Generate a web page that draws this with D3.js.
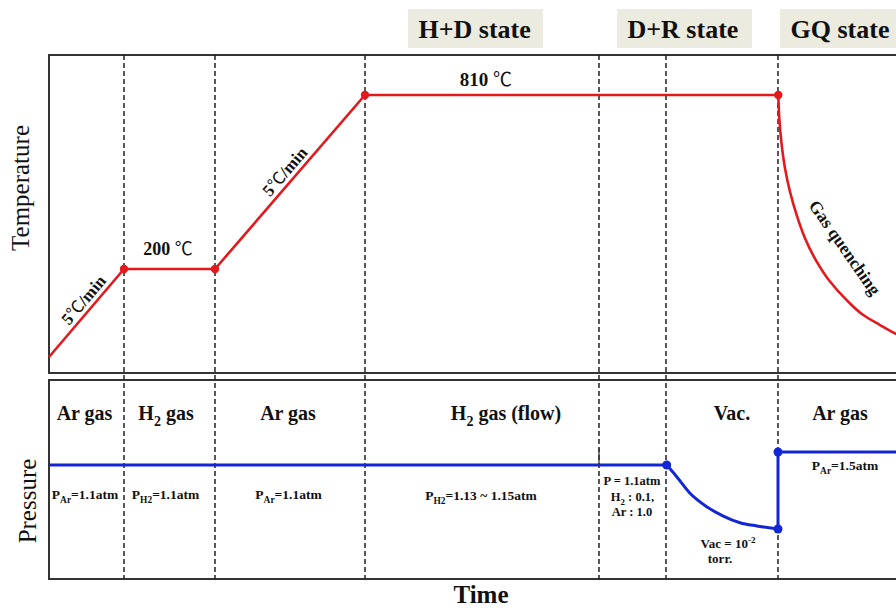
<!DOCTYPE html>
<html><head><meta charset="utf-8">
<script src="https://cdn.jsdelivr.net/npm/d3@7"></script>
<style>
html,body{margin:0;padding:0;background:#fff;}
svg{display:block;}
text{font-family:"Liberation Serif","Times New Roman",serif;fill:#111;}
.cel{font-family:"Noto Sans CJK SC","Noto Sans CJK JP",sans-serif;font-weight:normal;}
</style></head>
<body><svg id="c" width="896" height="610"></svg>
<script>
// ---- data (schematic time units) ----
const stageBounds = [7.5, 16.6, 31.6, 55.0, 61.7, 72.9];
const stateLabels = ["H+D state", "D+R state", "GQ state"];
const stateStarts = [35.9, 56.8, 73.1];

const tempTimes  = [0, 7.5, 16.6, 31.6, 72.93];
const tempValues = [25, 200, 200, 810, 810];
const quenchTimes  = [72.93, 73.03, 73.27, 73.6, 74.1, 74.77, 75.6, 76.77, 78.1, 79.77, 81.43, 83.1, 84.6, 85.0];
const quenchValues = [810, 728, 635, 553, 471, 389, 308, 226, 175, 138, 108.5, 88.6, 72, 68];
const tempDotTimes  = [7.5, 16.6, 31.6, 72.93];
const tempDotValues = [200, 200, 810, 810];

const presTimes  = [0, 55.0, 61.77];
const presValues = [1.1, 1.1, 1.1];
const vacTimes  = [61.77, 62.77, 64.1, 65.77, 67.43, 69.1, 70.77, 72.9];
const vacValues = [1.1, 0.899, 0.614, 0.383, 0.223, 0.108, 0.052, 0];
const refillTimes  = [72.9, 72.9, 85.5];
const refillValues = [0, 1.5, 1.5];
const presDotTimes  = [61.77, 72.9, 72.9];
const presDotValues = [1.1, 0, 1.5];

const gasLabels = ["Ar gas", "H|2| gas", "Ar gas", "H|2| gas (flow)", "Vac.", "Ar gas"];
const gasCenters = [3.55, 11.7, 23.9, 45.7, 68.3, 79.1];

// ---- layout ----
const svg = d3.select("#c");
const L = 49;
const topP = {y0: 55, y1: 373};
const botP = {y0: 380, y1: 579};
const x = d3.scaleLinear().domain([0, 85]).range([L, 899]);
const yT = d3.scaleLinear().domain([25, 200, 810]).range([357, 269, 95]);
const yP = d3.scaleLinear().domain([0, 1.1, 1.5]).range([529, 465, 452]);
const RED = "#e3191c", BLUE = "#1226d4", DARK = "#333";

// header boxes
stateLabels.forEach((s, i) => {
  const bx = x(stateStarts[i]);
  svg.append("rect").attr("x", bx).attr("y", 9).attr("width", 135).attr("height", 39)
    .attr("fill", "#ecebdf");
  svg.append("text").attr("x", bx + 10.5).attr("y", 38)
    .attr("font-size", 26).attr("font-weight", "bold").text(s);
});

// panels
[topP, botP].forEach(p => {
  svg.append("path")
    .attr("d", `M${x(86)},${p.y0}H${L}V${p.y1}H${x(86)}`)
    .attr("fill", "none").attr("stroke", DARK).attr("stroke-width", 2);
});

// dashed stage lines
svg.selectAll("line.stage").data(stageBounds).enter().append("line")
  .attr("x1", d => x(d)).attr("x2", d => x(d))
  .attr("y1", topP.y0).attr("y2", botP.y1)
  .attr("stroke", "#222").attr("stroke-width", 1.5).attr("stroke-dasharray", "5,3");

// temperature
const lineT = d3.line().x(d => x(d[0])).y(d => yT(d[1]));
svg.append("path").attr("d", lineT(d3.zip(tempTimes, tempValues)))
  .attr("fill", "none").attr("stroke", RED).attr("stroke-width", 2.6);
svg.append("path").attr("d", d3.line().x(d => x(d[0])).y(d => yT(d[1])).curve(d3.curveMonotoneY)(d3.zip(quenchTimes, quenchValues)))
  .attr("fill", "none").attr("stroke", RED).attr("stroke-width", 2.6);
svg.selectAll("circle.td").data(d3.zip(tempDotTimes, tempDotValues)).enter().append("circle")
  .attr("cx", d => x(d[0])).attr("cy", d => yT(d[1])).attr("r", 4.2).attr("fill", RED);

// label with celsius glyph
function celText(sel, before, after, size) {
  sel.attr("font-size", size).attr("font-weight", "bold");
  sel.append("tspan").text(before);
  sel.append("tspan").attr("class", "cel").text("\u2103");
  if (after) sel.append("tspan").text(after);
  return sel;
}
function slopeLabel(t0, v0, t1, v1, frac, off) {
  const x0 = x(t0), y0 = yT(v0), x1 = x(t1), y1 = yT(v1);
  const ang = Math.atan2(y1 - y0, x1 - x0) * 180 / Math.PI;
  const px = x0 + (x1 - x0) * frac, py = y0 + (y1 - y0) * frac;
  const t = svg.append("text").attr("transform", `translate(${px},${py}) rotate(${ang})`)
    .attr("y", -off).attr("text-anchor", "middle");
  celText(t, "5", "/min", 17);
}
slopeLabel(0, 25, 7.5, 200, 0.57, 5);
slopeLabel(16.6, 200, 31.6, 810, 0.52, 5);
celText(svg.append("text").attr("x", x(11.9)).attr("y", yT(200) - 14).attr("text-anchor", "middle"), "200 ", "", 18);
celText(svg.append("text").attr("x", x(43.7)).attr("y", yT(810) - 9).attr("text-anchor", "middle"), "810 ", "", 19);
svg.append("text").attr("transform", "translate(840,251) rotate(55)")
  .attr("text-anchor", "middle").attr("font-size", 17.5).attr("font-weight", "bold").text("Gas quenching");

// pressure
const lineP = d3.line().x(d => x(d[0])).y(d => yP(d[1]));
svg.append("path").attr("d", lineP(d3.zip(presTimes, presValues)))
  .attr("fill", "none").attr("stroke", BLUE).attr("stroke-width", 3);
svg.append("path").attr("d", d3.line().x(d => x(d[0])).y(d => yP(d[1])).curve(d3.curveMonotoneX)(d3.zip(vacTimes, vacValues)))
  .attr("fill", "none").attr("stroke", BLUE).attr("stroke-width", 3);
svg.append("path").attr("d", lineP(d3.zip(refillTimes, refillValues)))
  .attr("fill", "none").attr("stroke", BLUE).attr("stroke-width", 3);
svg.append("line").attr("x1", x(55.0)).attr("x2", x(55.0)).attr("y1", yP(1.1)).attr("y2", yP(1.62))
  .attr("stroke", "#333").attr("stroke-width", 1.3);
svg.selectAll("circle.pd").data(d3.zip(presDotTimes, presDotValues)).enter().append("circle")
  .attr("cx", d => x(d[0])).attr("cy", d => yP(d[1])).attr("r", 4.5).attr("fill", BLUE);

// rich text helper: parts [text, mode] mode: 0 normal, 1 sub, 2 sup
function rich(xp, yp, size, parts) {
  const t = svg.append("text").attr("x", xp).attr("y", yp).attr("text-anchor", "middle")
    .attr("font-size", size).attr("font-weight", "bold");
  let cur = 0;
  parts.forEach(([s, m]) => {
    const target = m === 1 ? size * 0.28 : m === 2 ? -size * 0.4 : 0;
    t.append("tspan").attr("dy", target - cur).attr("font-size", m ? size * 0.7 : size).text(s);
    cur = target;
  });
  return t;
}
gasLabels.forEach((g, i) => {
  const p = g.split("|");
  const parts = p.length > 1 ? [[p[0], 0], [p[1], 1], [p[2], 0]] : [[g, 0]];
  rich(x(gasCenters[i]), 420, 20, parts);
});
rich(x(3.6), 499, 13.5, [["P", 0], ["Ar", 1], ["=1.1atm", 0]]);
rich(x(11.65), 499, 13.5, [["P", 0], ["H2", 1], ["=1.1atm", 0]]);
rich(x(23.95), 499, 13.5, [["P", 0], ["Ar", 1], ["=1.1atm", 0]]);
rich(x(43.2), 500, 13.5, [["P", 0], ["H2", 1], ["=1.13 ~ 1.15atm", 0]]);
rich(x(58.3), 485, 12.5, [["P = 1.1atm", 0]]);
rich(x(58.35), 501, 12.5, [["H", 0], ["2", 1], [" : 0.1,", 0]]);
rich(x(58.3), 516, 12.5, [["Ar : 1.0", 0]]);
rich(x(67.9), 548, 13, [["Vac = 10", 0], ["-2", 2]]);
rich(x(67.1), 563, 13, [["torr.", 0]]);
rich(x(79.6), 470, 13.5, [["P", 0], ["Ar", 1], ["=1.5atm", 0]]);

// axis titles
svg.append("text").attr("transform", `translate(29,188) rotate(-90)`)
  .attr("text-anchor", "middle").attr("font-size", 25).text("Temperature");
svg.append("text").attr("transform", `translate(36,501) rotate(-90)`)
  .attr("text-anchor", "middle").attr("font-size", 25).text("Pressure");
svg.append("text").attr("x", 481).attr("y", 603).attr("text-anchor", "middle")
  .attr("font-size", 25).attr("font-weight", "bold").text("Time");
</script></body></html>
